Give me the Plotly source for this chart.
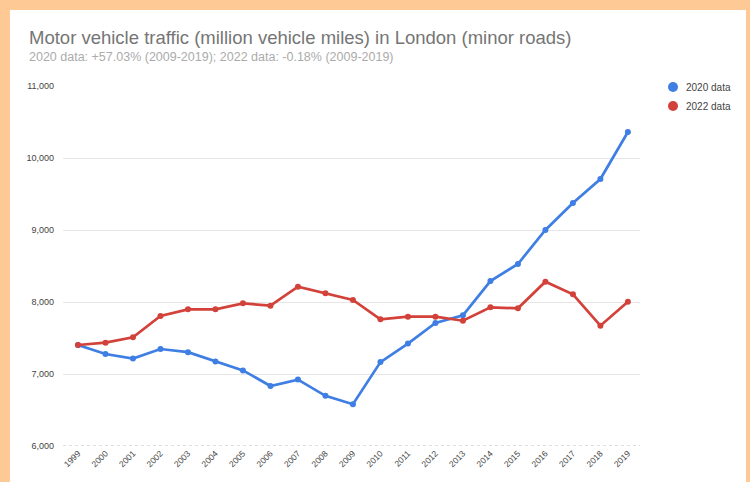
import plotly.graph_objects as go

years = list(range(1999, 2020))
data_2020 = [7403, 7278, 7215, 7347, 7303, 7175, 7050, 6833, 6922, 6697, 6580,
             7165, 7422, 7708, 7815, 8290, 8528, 9000, 9375, 9708, 10361]
data_2022 = [7403, 7435, 7509, 7806, 7898, 7898, 7981, 7949, 8213, 8120, 8028,
             7759, 7796, 7796, 7740, 7926, 7912, 8282, 8107, 7671, 8004]
y_ticks = [6000, 7000, 8000, 9000, 10000, 11000]
series_names = ["2020 data", "2022 data"]

title = "Motor vehicle traffic (million vehicle miles) in London (minor roads)"
subtitle = "2020 data: +57.03% (2009-2019); 2022 data: -0.18% (2009-2019)"

BLUE = "#3F7EE3"
RED = "#D2423A"
ORANGE = "#FFC996"
FONT = "Liberation Sans, Arial, sans-serif"

fig = go.Figure()
fig.add_trace(go.Scatter(x=years, y=data_2020, name=series_names[0], mode="lines+markers",
                         line=dict(color=BLUE, width=2.7), marker=dict(color=BLUE, size=6)))
fig.add_trace(go.Scatter(x=years, y=data_2022, name=series_names[1], mode="lines+markers",
                         line=dict(color=RED, width=2.7), marker=dict(color=RED, size=6)))

L, R, T, B = 63, 110, 86, 36
W, H = 750, 482
pw, ph = W - L - R, H - T - B

def px_x(p):
    return (p - L) / pw

def px_y(p):
    return (H - B - p) / ph

shapes = [dict(type="rect", xref="paper", yref="paper",
               x0=px_x(10), x1=px_x(746), y0=px_y(483), y1=px_y(10),
               fillcolor="white", line=dict(width=0), layer="below")]
annotations = [
    dict(text=title, xref="paper", yref="paper", x=px_x(27), y=px_y(37),
         xanchor="left", yanchor="middle", showarrow=False,
         font=dict(size=18.5, color="#757575", family=FONT)),
    dict(text=subtitle, xref="paper", yref="paper", x=px_x(27), y=px_y(57),
         xanchor="left", yanchor="middle", showarrow=False,
         font=dict(size=12.5, color="#ABABAB", family=FONT)),
]
# legend (drawn manually to match compact spacing)
for i, (name, col) in enumerate(zip(series_names, [BLUE, RED])):
    cy = 87 + 19 * i
    shapes.append(dict(type="circle", xref="paper", yref="paper",
                       x0=px_x(668), x1=px_x(678), y0=px_y(cy + 5), y1=px_y(cy - 5),
                       fillcolor=col, line=dict(width=0)))
    annotations.append(dict(text=name, xref="paper", yref="paper", x=px_x(684), y=px_y(cy),
                            xanchor="left", yanchor="middle", showarrow=False,
                            font=dict(size=10, color="#444444", family=FONT)))

fig.update_layout(
    width=W, height=H,
    margin=dict(l=L, r=R, t=T, b=B, pad=0),
    paper_bgcolor=ORANGE,
    plot_bgcolor="white",
    font=dict(family=FONT, color="#555555"),
    showlegend=False,
    shapes=shapes,
    annotations=annotations,
    xaxis=dict(range=[1998.455, 2019.44], tickvals=years, ticktext=[str(y) for y in years],
               tickangle=-45, tickfont=dict(size=8.5, color="#444444"),
               showgrid=False, zeroline=False, showline=False, ticks=""),
    yaxis=dict(range=[6000, 11000], tickvals=y_ticks,
               ticktext=[f"{v:,}" for v in y_ticks],
               tickfont=dict(size=9, color="#444444"),
               gridcolor="#E6E6E6", gridwidth=1, zeroline=False, showline=False,
               ticks="", ticklabelstandoff=8),
)
fig.add_hline(y=6000, line=dict(color="#BDBDBD", width=1, dash="dot"))

fig.write_html("out.html")
